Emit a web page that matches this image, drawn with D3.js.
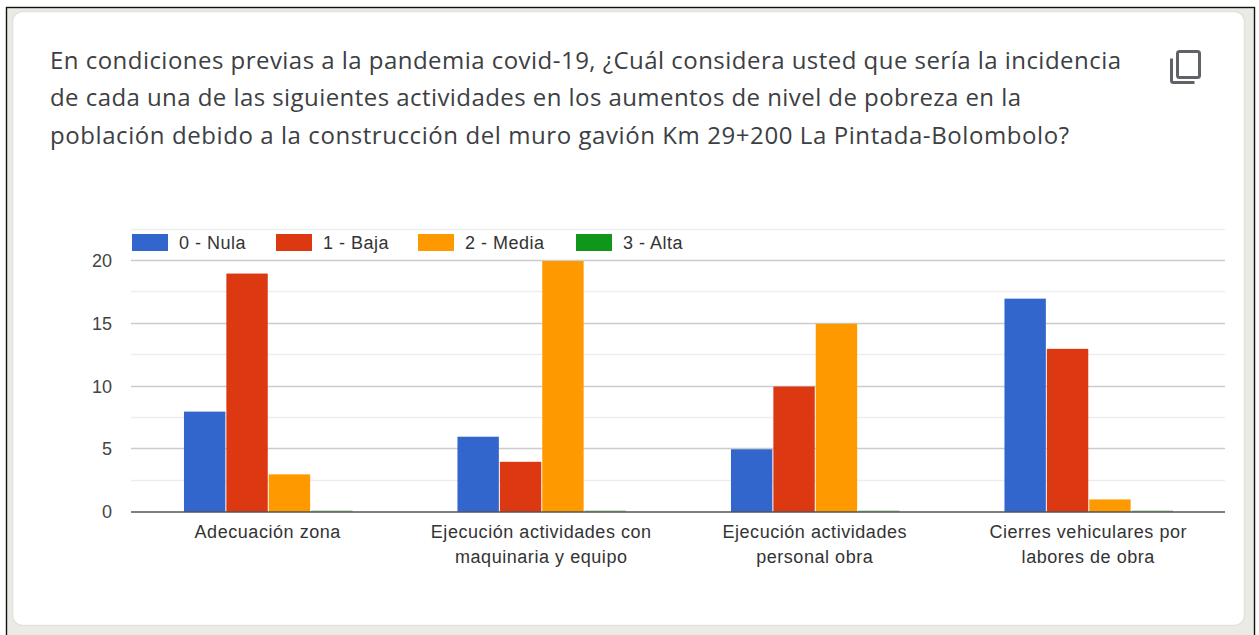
<!DOCTYPE html>
<html><head><meta charset="utf-8">
<script src="https://cdn.jsdelivr.net/npm/d3@7/dist/d3.min.js"></script>
<style>html,body{margin:0;padding:0;background:#fff;overflow:hidden}svg{display:block}</style>
</head><body><svg id="c" width="1259" height="635"></svg>
<script>
const titleLines = ["En condiciones previas a la pandemia covid-19, ¿Cuál considera usted que sería la incidencia",
 "de cada una de las siguientes actividades en los aumentos de nivel de pobreza en la",
 "población debido a la construcción del muro gavión Km 29+200 La Pintada-Bolombolo?"];
const categories = [["Adecuación zona"],["Ejecución actividades con","maquinaria y equipo"],["Ejecución actividades","personal obra"],["Cierres vehiculares por","labores de obra"]];
const seriesNames = ["0 - Nula","1 - Baja","2 - Media","3 - Alta"];
const seriesColors = ["#3366cc","#dc3912","#ff9900","#109618"];
const nula = [8,6,5,17];
const baja = [19,4,10,13];
const media = [3,20,15,1];
const alta = [0,0,0,0];
const yTicks = [0,5,10,15,20];
const yMinor = [2.5,7.5,12.5,17.5,22.5];
const series = [nula,baja,media,alta];

const svg = d3.select("#c");
svg.append("rect").attr("width",1259).attr("height",635).attr("fill","#fff");
svg.append("rect").attr("x",6.5).attr("y",7.5).attr("width",1248).attr("height",640).attr("fill","#ebebe6").attr("stroke","#111").attr("stroke-width",1.4);
svg.append("rect").attr("x",12.5).attr("y",11.5).attr("width",1232).attr("height",614).attr("rx",10).attr("fill","#fff").attr("stroke","#e2e2e0").attr("stroke-width",1.5);

svg.append("g").selectAll("text").data(titleLines).join("text")
 .attr("x",50).attr("y",(d,i)=>68.5+i*37.5)
 .attr("font-family","'Open Sans'").attr("font-size",24).attr("fill","#3c4043")
 .attr("textLength",(d,i)=>[1071,971,1019][i]).attr("lengthAdjust","spacing").text(d=>d);

// copy icon
const icon = svg.append("g").attr("fill","none").attr("stroke","#5f6368").attr("stroke-width",3);
icon.append("rect").attr("x",1177.5).attr("y",51.5).attr("width",22).attr("height",26).attr("rx",2);
icon.append("path").attr("d","M1171.5 58.5V80.5a2 2 0 0 0 2 2H1194.5");

const x = d3.scaleBand().domain(d3.range(categories.length)).range([131,1225]);
const xi = d3.scaleBand().domain(d3.range(series.length)).range([0,x.bandwidth()*0.62]);
const offset = x.bandwidth()*0.19;
const y = d3.scaleLinear().domain([0,20]).range([512,261]);
const font = "'Liberation Sans'";

svg.append("g").selectAll("line").data(yMinor).join("line")
 .attr("x1",131).attr("x2",1225).attr("y1",d=>Math.round(y(d))-.5).attr("y2",d=>Math.round(y(d))-.5)
 .attr("stroke","#ededed").attr("stroke-width",1.5);
svg.append("g").selectAll("line").data(yTicks.filter(d=>d>0)).join("line")
 .attr("x1",131).attr("x2",1225).attr("y1",d=>Math.round(y(d))-.5).attr("y2",d=>Math.round(y(d))-.5)
 .attr("stroke","#cccccc").attr("stroke-width",1.3);

svg.append("g").selectAll("g").data(series).join("g")
 .attr("fill",(d,i)=>seriesColors[i])
 .each(function(vals,si){
  d3.select(this).selectAll("rect").data(vals).join("rect")
   .attr("x",(v,c)=>x(c)+offset+xi(si)+1)
   .attr("width",xi.bandwidth()-1)
   .attr("y",v=>v>0?y(v):y(0)-1.5)
   .attr("height",v=>v>0?y(0)-y(v):1.5)
   .attr("opacity",v=>v>0?1:.45);
 });

svg.append("line").attr("x1",131).attr("x2",1225).attr("y1",y(0)).attr("y2",y(0)).attr("stroke","#555").attr("stroke-width",1.5);

svg.append("g").selectAll("text").data(yTicks).join("text")
 .attr("x",112).attr("y",d=>y(d)+6).attr("text-anchor","end")
 .attr("font-family",font).attr("font-size",18).attr("fill","#444").text(d=>d);

svg.append("g").selectAll("g").data(categories).join("g").each(function(lines,c){
 d3.select(this).selectAll("text").data(lines).join("text")
  .attr("x",x(c)+x.bandwidth()/2).attr("y",(d,i)=>538+i*25).attr("text-anchor","middle")
  .attr("font-family",font).attr("font-size",18).attr("letter-spacing",.55).attr("fill","#333").text(d=>d);
});

const legendX = [132,276,418,576];
const lg = svg.append("g").selectAll("g").data(seriesNames).join("g").attr("transform",(d,i)=>`translate(${legendX[i]},234)`);
lg.append("rect").attr("width",36).attr("height",17).attr("fill",(d,i)=>seriesColors[i]);
lg.append("text").attr("x",47).attr("y",15).attr("font-family",font).attr("font-size",18).attr("letter-spacing",.5).attr("fill","#333").text(d=>d);
</script></body></html>
